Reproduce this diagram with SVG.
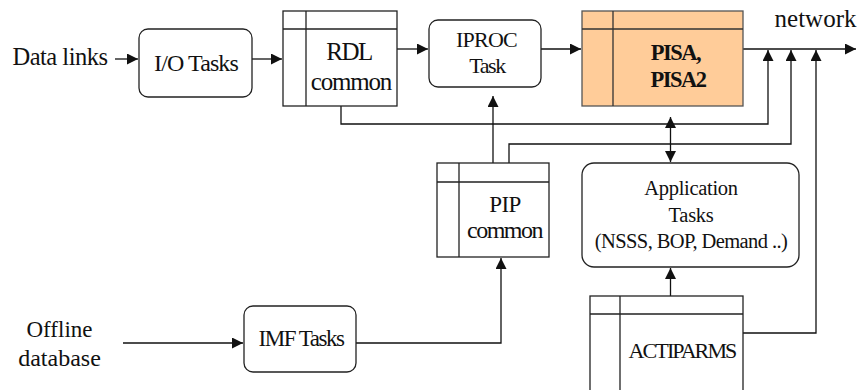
<svg xmlns="http://www.w3.org/2000/svg" width="862" height="390" viewBox="0 0 862 390">
  <style>
    .box { fill: #fff; stroke: #222; stroke-width: 1.3; }
    .store { fill: #fff; stroke: #222; stroke-width: 1.3; }
    .hot { fill: #FFCC99; stroke: #555; stroke-width: 1.3; }
    .div { stroke: #222; stroke-width: 1.3; fill: none; }
    .t { font-family: "Liberation Serif", "Times New Roman", serif; fill: #111; text-anchor: middle; }
    .wire { fill: none; stroke: #111; stroke-width: 1.3; }
    .arr { marker-end: url(#head); }
  </style>
  <defs>
    <marker id="head" viewBox="0 0 10 10" refX="10" refY="5" markerWidth="11" markerHeight="11" markerUnits="userSpaceOnUse" orient="auto-start-reverse">
      <path d="M0,0 L10,5 L0,10 z" fill="#111"/>
    </marker>
  </defs>

  <!-- connectors -->
  <g id="connectors">
    <path class="wire arr" d="M115,59 H138"/>
    <path class="wire arr" d="M252,59 H282"/>
    <path class="wire arr" d="M397,49 H428"/>
    <path class="wire arr" d="M541,49 H581"/>
    <path class="wire arr" d="M743,49 H856"/>
    <path class="wire arr" d="M341,106 V124 H768 V50"/>
    <path class="wire arr" d="M509,163 V144 H791 V50"/>
    <path class="wire arr" d="M493,163 V96"/>
    <path class="wire arr" d="M743,333 H816 V50"/>
    <path class="wire arr" d="M670.5,117 V162" style="marker-start:url(#head)"/>
    <path class="wire arr" d="M670.5,296 V268"/>
    <path class="wire arr" d="M123,343 H243"/>
    <path class="wire arr" d="M356,343 H501 V258"/>
  </g>

  <!-- external labels -->
  <g id="data-links">
    <text class="t" x="60" y="65" font-size="24.5" letter-spacing="-0.5">Data links</text>
  </g>
  <g id="network">
    <text class="t" x="815.5" y="27" font-size="25">network</text>
  </g>
  <g id="offline-database">
    <text class="t" x="59.5" y="337" font-size="23">Offline</text>
    <text class="t" x="59.5" y="366" font-size="24">database</text>
  </g>

  <!-- processing tasks -->
  <g id="io-tasks">
    <rect class="box" x="139" y="29" width="113" height="68" rx="9"/>
    <text class="t" x="196" y="70.5" font-size="24" letter-spacing="-0.9">I/O Tasks</text>
  </g>
  <g id="iproc-task">
    <rect class="box" x="429" y="20" width="112" height="67" rx="9"/>
    <text class="t" x="486.5" y="47" font-size="22" letter-spacing="-0.8">IPROC</text>
    <text class="t" x="487" y="73" font-size="22" letter-spacing="-1.4">Task</text>
  </g>
  <g id="imf-tasks">
    <rect class="box" x="244" y="306" width="112" height="66" rx="9"/>
    <text class="t" x="301" y="346" font-size="23" letter-spacing="-1.5">IMF Tasks</text>
  </g>
  <g id="application-tasks">
    <rect class="box" x="582" y="163" width="217" height="104" rx="12"/>
    <text class="t" x="691" y="195" font-size="20.5" letter-spacing="-0.3">Application</text>
    <text class="t" x="691" y="222" font-size="20.5" letter-spacing="-0.3">Tasks</text>
    <text class="t" x="691" y="248" font-size="20.5" letter-spacing="-0.6">(NSSS, BOP, Demand ..)</text>
  </g>

  <!-- common data areas -->
  <g id="rdl-common">
    <rect class="store" x="283" y="11" width="114" height="95"/>
    <path class="div" d="M283,29 H397 M306,11 V106"/>
    <text class="t" x="349" y="60" font-size="25" letter-spacing="-1.5">RDL</text>
    <text class="t" x="351" y="90" font-size="25" letter-spacing="-1.2">common</text>
  </g>
  <g id="pisa">
    <rect class="hot" x="582" y="11" width="161" height="95"/>
    <path class="div" d="M582,29 H743 M613,11 V106" style="stroke:#333"/>
    <text class="t" x="675.5" y="60" font-size="22.5" font-weight="bold" letter-spacing="-1.5">PISA,</text>
    <text class="t" x="678" y="87" font-size="22.5" font-weight="bold" letter-spacing="-1.5">PISA2</text>
  </g>
  <g id="pip-common">
    <rect class="store" x="437" y="163" width="112" height="94"/>
    <path class="div" d="M437,182 H549 M459,163 V257"/>
    <text class="t" x="505" y="212" font-size="23" letter-spacing="-0.6">PIP</text>
    <text class="t" x="504.5" y="238" font-size="24" letter-spacing="-1.5">common</text>
  </g>
  <g id="actiparms">
    <rect class="store" x="590" y="296" width="153" height="110"/>
    <path class="div" d="M590,314 H743 M620,296 V400"/>
    <text class="t" x="682" y="358" font-size="22" letter-spacing="-1.9">ACTIPARMS</text>
  </g>
</svg>
